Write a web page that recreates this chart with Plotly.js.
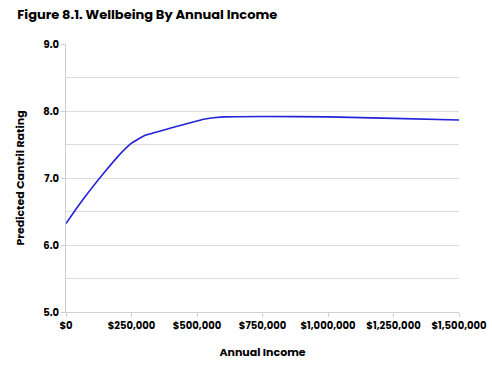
<!DOCTYPE html>
<html>
<head>
<meta charset="utf-8">
<script src="https://cdn.plot.ly/plotly-3.0.1.min.js"></script>
<style>html,body{margin:0;padding:0;background:#fff}#chart{width:492px;height:370px}</style>
</head>
<body>
<div id="chart"></div>
<script>
const income = [0, 50000, 100000, 150000, 200000, 250000, 300000, 400000, 500000, 530000, 600000, 750000, 1000000, 1250000, 1500000];
const rating = [6.32, 6.60, 6.86, 7.10, 7.33, 7.52, 7.635, 7.745, 7.85, 7.88, 7.912, 7.918, 7.912, 7.89, 7.865];
const xTicks = [0, 250000, 500000, 750000, 1000000, 1250000, 1500000];
const yTicks = [5, 6, 7, 8, 9];

const fontFam = "Poppins, 'Open Sans', Roboto, sans-serif";
Plotly.newPlot('chart', [{
  x: income, y: rating, type: 'scatter', mode: 'lines',
  line: {color: '#2323d8', width: 1.6, shape: 'spline', smoothing: 0.3},
  hoverinfo: 'skip'
}], {
  width: 492, height: 370,
  margin: {l: 66, r: 33, t: 44, b: 58},
  paper_bgcolor: '#fff', plot_bgcolor: '#fff',
  showlegend: false,
  font: {family: fontFam, color: '#000', size: 10, weight: 700},
  title: {text: 'Figure 8.1. Wellbeing By Annual Income', x: 0.035, xanchor: 'left', y: 0.962, yanchor: 'middle',
          font: {family: fontFam, size: 13, weight: 700, color: '#000'}},
  xaxis: {
    range: [0, 1500000], tickvals: xTicks, tickformat: '$,', showgrid: false,
    zeroline: false, showline: true, linecolor: '#d0d0d0', linewidth: 1,
    ticks: 'outside', ticklen: 4, tickcolor: '#d0d0d0',
    tickfont: {family: fontFam, size: 10, weight: 700, color: '#000'},
    title: {text: 'Annual Income', standoff: 16, font: {family: fontFam, size: 11, weight: 700, color: '#000'}}
  },
  yaxis: {
    range: [5, 9], tickvals: yTicks, tickformat: '.1f', showgrid: true, gridcolor: '#dcdcdc',
    zeroline: false, showline: true, linecolor: '#d0d0d0', linewidth: 1,
    ticks: 'outside', ticklen: 4, tickcolor: '#d0d0d0',
    minor: {dtick: 0.5, showgrid: true, gridcolor: '#dcdcdc', ticks: ''},
    tickfont: {family: fontFam, size: 10, weight: 700, color: '#000'},
    title: {text: 'Predicted Cantril Rating', standoff: 16, font: {family: fontFam, size: 11, weight: 700, color: '#000'}}
  }
}, {displayModeBar: false, staticPlot: true});
</script>
</body>
</html>
